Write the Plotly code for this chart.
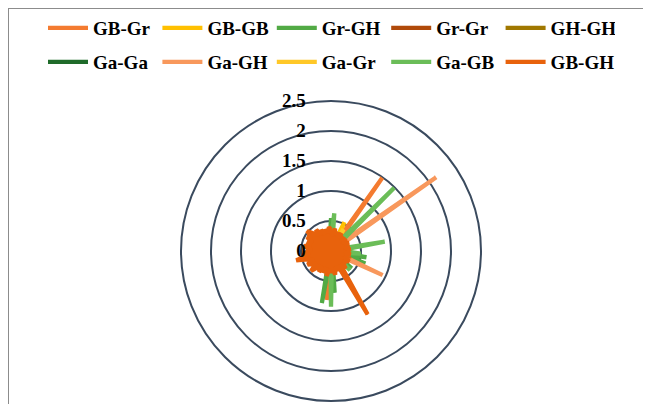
import plotly.graph_objects as go

# categories: compass directions (degrees), 72 spokes
categories = list(range(0, 360, 5))

series_names = ["GB-Gr", "GB-GB", "Gr-GH", "Gr-Gr", "GH-GH",
                "Ga-Ga", "Ga-GH", "Ga-Gr", "Ga-GB", "GB-GH"]
series_colors = ["#F47B30", "#FFC000", "#52AA45", "#B04A0A", "#A07800",
                 "#1F6B2A", "#F8985C", "#FFC828", "#6BBD58", "#E8620C"]

gb_gr = [0.15, 0.10, 0.20, 0.12, 0.18, 0.10, 0.14, 1.49, 0.12, 0.20, 0.10, 0.16,
         0.12, 0.18, 0.10, 0.22, 0.14, 0.10, 0.20, 0.12, 0.16, 0.10, 0.24, 0.12,
         0.18, 0.10, 0.15, 0.20, 0.12, 0.18, 0.10, 0.22, 0.14, 0.20, 0.12, 0.16,
         0.10, 0.82, 0.14, 0.20, 0.12, 0.18, 0.10, 0.16, 0.22, 0.12, 0.18, 0.10,
         0.20, 0.14, 0.18, 0.10, 0.22, 0.12, 0.16, 0.20, 0.10, 0.18, 0.14, 0.12,
         0.20, 0.10, 0.16, 0.22, 0.12, 0.18, 0.10, 0.14, 0.20, 0.12, 0.16, 0.10]
gb_gb = [0.12, 0.18, 0.10, 0.20, 0.14, 0.53, 0.12, 0.16, 0.10, 0.18, 0.12, 0.20,
         0.10, 0.14, 0.18, 0.12, 0.20, 0.10, 0.16, 0.12, 0.18, 0.10, 0.14, 0.20,
         0.12, 0.16, 0.10, 0.18, 0.14, 0.12, 0.20, 0.10, 0.16, 0.12, 0.18, 0.10,
         0.14, 0.20, 0.12, 0.16, 0.10, 0.18, 0.14, 0.12, 0.20, 0.10, 0.16, 0.12,
         0.18, 0.10, 0.14, 0.20, 0.12, 0.16, 0.10, 0.18, 0.12, 0.14, 0.20, 0.10,
         0.16, 0.12, 0.18, 0.10, 0.14, 0.20, 0.12, 0.16, 0.10, 0.18, 0.12, 0.14]
gr_gh = [0.55, 0.12, 0.18, 0.10, 0.20, 0.14, 0.12, 0.18, 0.10, 0.16, 0.20, 0.12,
         0.14, 0.18, 0.10, 0.22, 0.16, 0.12, 0.20, 0.14, 0.60, 0.18, 0.61, 0.12,
         0.20, 0.14, 0.45, 0.16, 0.12, 0.20, 0.14, 0.18, 0.12, 0.22, 0.16, 0.70,
         0.18, 0.12, 0.88, 0.14, 0.20, 0.12, 0.18, 0.10, 0.16, 0.20, 0.12, 0.18,
         0.10, 0.14, 0.20, 0.12, 0.16, 0.10, 0.18, 0.14, 0.12, 0.20, 0.10, 0.16,
         0.12, 0.18, 0.10, 0.14, 0.20, 0.12, 0.16, 0.10, 0.18, 0.12, 0.14, 0.20]
gr_gr = [0.10, 0.16, 0.12, 0.18, 0.10, 0.14, 0.20, 0.12, 0.16, 0.10, 0.18, 0.12,
         0.14, 0.10, 0.20, 0.12, 0.16, 0.10, 0.18, 0.14, 0.12, 0.20, 0.10, 0.16,
         0.12, 0.18, 0.10, 0.14, 0.20, 0.12, 0.16, 0.10, 0.18, 0.12, 0.14, 0.20,
         0.10, 0.16, 0.12, 0.18, 0.10, 0.14, 0.20, 0.12, 0.16, 0.10, 0.18, 0.12,
         0.14, 0.10, 0.20, 0.12, 0.16, 0.10, 0.18, 0.14, 0.12, 0.20, 0.10, 0.16,
         0.12, 0.18, 0.10, 0.14, 0.20, 0.12, 0.16, 0.10, 0.18, 0.12, 0.14, 0.10]
gh_gh = [0.14, 0.10, 0.18, 0.12, 0.16, 0.10, 0.20, 0.12, 0.14, 0.18, 0.10, 0.16,
         0.12, 0.20, 0.10, 0.14, 0.18, 0.12, 0.16, 0.10, 0.20, 0.12, 0.14, 0.18,
         0.10, 0.16, 0.12, 0.20, 0.10, 0.14, 0.18, 0.12, 0.16, 0.10, 0.20, 0.12,
         0.14, 0.18, 0.10, 0.16, 0.12, 0.20, 0.10, 0.14, 0.18, 0.12, 0.16, 0.10,
         0.20, 0.12, 0.14, 0.18, 0.10, 0.16, 0.12, 0.20, 0.10, 0.14, 0.18, 0.12,
         0.16, 0.10, 0.20, 0.12, 0.14, 0.18, 0.10, 0.16, 0.12, 0.20, 0.10, 0.14]
ga_ga = [0.10, 0.14, 0.12, 0.16, 0.10, 0.18, 0.12, 0.14, 0.10, 0.16, 0.12, 0.18,
         0.10, 0.14, 0.12, 0.16, 0.10, 0.18, 0.12, 0.14, 0.10, 0.16, 0.12, 0.18,
         0.10, 0.14, 0.12, 0.16, 0.10, 0.18, 0.12, 0.14, 0.10, 0.16, 0.12, 0.18,
         0.10, 0.14, 0.12, 0.16, 0.10, 0.18, 0.12, 0.14, 0.10, 0.16, 0.12, 0.18,
         0.10, 0.14, 0.12, 0.16, 0.10, 0.18, 0.12, 0.14, 0.10, 0.16, 0.12, 0.18,
         0.10, 0.14, 0.12, 0.16, 0.10, 0.18, 0.12, 0.14, 0.10, 0.16, 0.12, 0.18]
ga_gh = [0.16, 0.12, 0.20, 0.10, 0.18, 0.14, 0.22, 0.12, 0.16, 0.10, 0.20, 2.14,
         0.14, 0.18, 0.10, 0.22, 0.12, 0.16, 0.20, 0.10, 0.18, 0.14, 0.12, 0.95,
         0.16, 0.10, 0.20, 0.14, 0.18, 0.12, 0.22, 0.10, 0.16, 0.20, 0.12, 0.18,
         0.14, 0.10, 0.20, 0.16, 0.12, 0.22, 0.10, 0.18, 0.14, 0.20, 0.12, 0.16,
         0.10, 0.22, 0.14, 0.18, 0.12, 0.20, 0.10, 0.16, 0.22, 0.12, 0.18, 0.14,
         0.10, 0.20, 0.16, 0.12, 0.22, 0.10, 0.18, 0.14, 0.20, 0.12, 0.16, 0.10]
ga_gr = [0.12, 0.16, 0.10, 0.18, 0.14, 0.12, 0.42, 0.16, 0.10, 0.20, 0.12, 0.14,
         0.18, 0.10, 0.16, 0.12, 0.20, 0.14, 0.36, 0.12, 0.18, 0.10, 0.16, 0.14,
         0.12, 0.20, 0.10, 0.16, 0.14, 0.18, 0.12, 0.10, 0.20, 0.14, 0.16, 0.12,
         0.18, 0.10, 0.14, 0.20, 0.12, 0.16, 0.10, 0.18, 0.14, 0.12, 0.20, 0.10,
         0.16, 0.14, 0.18, 0.12, 0.10, 0.20, 0.14, 0.16, 0.12, 0.18, 0.10, 0.14,
         0.20, 0.12, 0.16, 0.10, 0.18, 0.14, 0.12, 0.20, 0.10, 0.16, 0.14, 0.18]
ga_gb = [0.20, 0.63, 0.14, 0.18, 0.12, 0.22, 0.16, 0.10, 0.20, 1.49, 0.14, 0.18,
         0.12, 0.22, 0.10, 0.16, 0.91, 0.14, 0.20, 0.50, 0.18, 0.12, 0.22, 0.16,
         0.10, 0.20, 0.14, 0.45, 0.12, 0.18, 0.22, 0.10, 0.16, 0.20, 0.14, 0.18,
         0.93, 0.12, 0.20, 0.16, 0.10, 0.22, 0.14, 0.18, 0.12, 0.20, 0.16, 0.10,
         0.22, 0.14, 0.18, 0.12, 0.20, 0.16, 0.10, 0.22, 0.14, 0.18, 0.12, 0.20,
         0.16, 0.10, 0.22, 0.14, 0.18, 0.12, 0.20, 0.16, 0.10, 0.22, 0.14, 0.18]
gb_gh = [0.36, 0.26, 0.38, 0.28, 0.33, 0.25, 0.34, 0.27, 0.31, 0.24, 0.32, 0.26,
         0.29, 0.32, 0.25, 0.31, 0.27, 0.32, 0.28, 0.26, 0.33, 0.25, 0.30, 0.27,
         0.35, 0.26, 0.32, 0.28, 0.38, 0.27, 1.22, 0.28, 0.35, 0.27, 0.40, 0.30,
         0.36, 0.31, 0.42, 0.29, 0.38, 0.31, 0.40, 0.30, 0.36, 0.47, 0.32, 0.38,
         0.45, 0.32, 0.41, 0.60, 0.36, 0.43, 0.39, 0.33, 0.46, 0.36, 0.42, 0.34,
         0.46, 0.39, 0.52, 0.41, 0.36, 0.43, 0.32, 0.39, 0.30, 0.37, 0.31, 0.40]

series_values = [gb_gr, gb_gb, gr_gh, gr_gr, gh_gh, ga_ga, ga_gh, ga_gr, ga_gb, gb_gh]

radial_ticks = [0, 0.5, 1, 1.5, 2, 2.5]
radial_ticktext = ["0", "0.5", "1", "1.5", "2", "2.5"]

FONT = "'Liberation Serif', 'Times New Roman', Times, serif"
RING = "#3A4A5E"
OFF = 8  # page body margin (px) that shifts the figure in the window
W, H = 651, 404


def px_x(sx):
    return (sx - OFF) / W


def px_y(sy):
    return 1 - (sy - OFF) / H


fig = go.Figure()
for i, (name, color, vals) in enumerate(zip(series_names, series_colors, series_values)):
    if name == "GB-GH":
        # solid core of the last series, as in the original rendering
        fig.add_trace(go.Scatterpolar(
            r=vals + vals[:1],
            theta=categories + categories[:1],
            mode="lines",
            fill="toself",
            fillcolor=color,
            line=dict(color=color, width=1),
            showlegend=False,
            hoverinfo="skip",
        ))
    fig.add_trace(go.Scatterpolar(
        r=vals + vals[:1],
        theta=categories + categories[:1],
        mode="lines",
        name=name,
        line=dict(color=color, width=4.3),
        legend="legend" if i < 5 else "legend2",
    ))

legend_common = dict(
    orientation="h",
    xanchor="left",
    yanchor="middle",
    font=dict(family=FONT, size=19, color="black", weight="bold"),
    bgcolor="rgba(0,0,0,0)",
    itemwidth=40,
    entrywidth=59.4,
    entrywidthmode="pixels",
    traceorder="normal",
)

cx, cy, rad = 331, 251, 150

fig.update_layout(
    width=W, height=H,
    margin=dict(l=0, r=0, t=0, b=0),
    paper_bgcolor="white",
    plot_bgcolor="white",
    showlegend=True,
    legend=dict(x=px_x(43), y=px_y(28), **legend_common),
    legend2=dict(x=px_x(43), y=px_y(62), **legend_common),
    polar=dict(
        domain=dict(x=[px_x(cx - rad), px_x(cx + rad)],
                    y=[px_y(cy + rad), px_y(cy - rad)]),
        bgcolor="rgba(0,0,0,0)",
        radialaxis=dict(
            range=[0, 2.5],
            tickvals=radial_ticks,
            ticktext=radial_ticktext,
            angle=90,
            side="counterclockwise",
            tickangle=90,
            showline=False,
            showgrid=True,
            gridcolor=RING,
            gridwidth=2,
            ticks="outside",
            ticklen=18,
            tickcolor="rgba(0,0,0,0)",
            tickfont=dict(family=FONT, size=19, color="black", weight="bold"),
        ),
        angularaxis=dict(
            direction="clockwise",
            rotation=90,
            showgrid=False,
            showticklabels=False,
            ticks="",
            showline=True,
            linecolor=RING,
            linewidth=2,
        ),
    ),
    shapes=[
        dict(type="line", xref="paper", yref="paper", x0=0, x1=0,
             y0=0, y1=1, line=dict(color="#8C8C8C", width=2)),
        dict(type="line", xref="paper", yref="paper", x0=0, x1=1,
             y0=1, y1=1, line=dict(color="#8C8C8C", width=2)),
    ],
)

fig.write_html("out.html")
